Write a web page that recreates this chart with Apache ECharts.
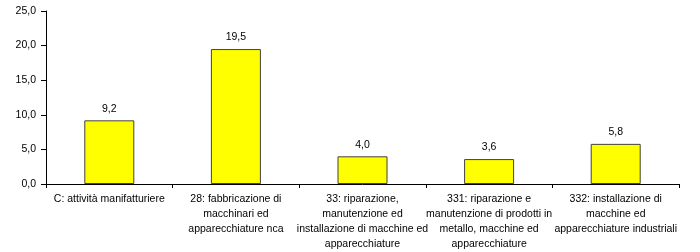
<!DOCTYPE html>
<html><head><meta charset="utf-8">
<script src="https://cdn.jsdelivr.net/npm/echarts@6/dist/echarts.min.js"></script>
<style>html,body{margin:0;padding:0;background:#fff}#c{width:700px;height:252px}</style>
</head><body><div id="c"></div>
<script>
const categories = [
  "C: attività manifatturiere",
  "28: fabbricazione di\nmacchinari ed\napparecchiature nca",
  "33: riparazione,\nmanutenzione ed\ninstallazione di macchine ed\napparecchiature",
  "331: riparazione e\nmanutenzione di prodotti in\nmetallo, macchine ed\napparecchiature",
  "332: installazione di\nmacchine ed\napparecchiature industriali"
];
const values = [9.2, 19.5, 4.0, 3.6, 5.8];
const yMin = 0, yMax = 25, yStep = 5;
const fmt = v => v.toFixed(1).replace('.', ',');
const FONT = '"Liberation Sans", Arial, sans-serif';
const chart = echarts.init(document.getElementById('c'), null, {renderer: 'canvas'});
chart.setOption({
  animation: false,
  textStyle: {fontFamily: FONT},
  grid: {left: 46, right: 21, top: 11, bottom: 68},
  xAxis: {
    type: 'category', data: categories,
    axisLine: {lineStyle: {color: '#000', width: 1}},
    axisTick: {show: true, alignWithLabel: false, length: 4, lineStyle: {color: '#000'}},
    axisLabel: {interval: 0, color: '#000', fontSize: 10.5, lineHeight: 15, margin: 8, fontFamily: FONT}
  },
  yAxis: {
    type: 'value', min: yMin, max: yMax, interval: yStep,
    axisLine: {show: true, lineStyle: {color: '#000', width: 1}},
    axisTick: {show: true, length: 5, lineStyle: {color: '#000'}},
    splitLine: {show: false},
    axisLabel: {color: '#000', fontSize: 10.5, margin: 10, formatter: v => fmt(v), fontFamily: FONT}
  },
  series: [{
    type: 'bar', data: values, barWidth: 50,
    itemStyle: {color: '#FFFF00', borderColor: '#404040', borderWidth: 1},
    label: {show: true, position: 'top', distance: 6, color: '#000', fontSize: 10.5,
      formatter: p => fmt(p.value), fontFamily: FONT}
  }]
});
</script></body></html>
